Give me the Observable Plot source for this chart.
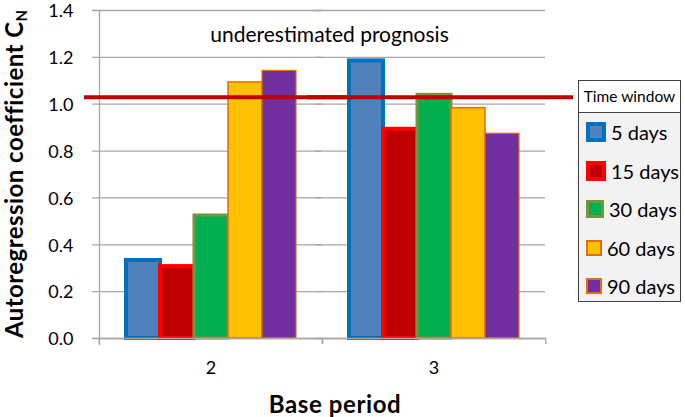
<!DOCTYPE html>
<html>
<head>
<meta charset="utf-8">
<script src="https://cdn.jsdelivr.net/npm/d3@7"></script>
<script src="https://cdn.jsdelivr.net/npm/@observablehq/plot@0.6"></script>
<style>
  html, body { margin: 0; padding: 0; background: #fff; }
  #wrap { position: relative; width: 685px; height: 417px; font-family: Lato, "Open Sans", sans-serif; color: #000; }
  #chart svg { display: block; }
  .ylab { position: absolute; left: 15px; top: 174px; transform: translate(-50%, -50%) rotate(-90deg); white-space: nowrap; font-weight: bold; font-size: 24px; letter-spacing: 0.45px; line-height: 1; }
  .ylab sub { font-size: 15px; vertical-align: -4px; letter-spacing: 0; }
  .xlab { position: absolute; left: 335px; top: 404px; transform: translate(-50%, -50%); white-space: nowrap; font-weight: bold; font-size: 24px; letter-spacing: 0.6px; line-height: 1; }
  .legend { position: absolute; left: 578px; top: 80px; width: 103px; height: 222px; border: 1.5px solid #404040; background: #f2f2f2; box-sizing: border-box; }
  .legend .title { height: 31px; background: #fff; border-bottom: 1.5px solid #404040; font-size: 15.5px; line-height: 31px; text-align: center; white-space: nowrap; }
  .legend .item { height: 38.5px; display: flex; align-items: center; padding-left: 7px; font-size: 20px; white-space: nowrap; }
  .legend .sw { width: 12px; height: 12px; margin-right: 5px; box-sizing: content-box; }
</style>
</head>
<body>
<div id="wrap">
  <div id="chart"></div>
</div>
<script>
const periods = ["2", "3"];
const windows = ["5 days", "15 days", "30 days", "60 days", "90 days"];
const valuesPeriod2 = [0.333, 0.307, 0.525, 1.093, 1.142];
const valuesPeriod3 = [1.185, 0.893, 1.040, 0.983, 0.874];
const fills = ["#4f81bd", "#c00000", "#00b050", "#ffc000", "#7030a0"];
const strokes = ["#0070c0", "#ff0000", "#77933c", "#e46c0a", "#e46c0a"];
const strokeWidths = [4, 4, 3, 1.5, 1.2];
const yTicks = [0, 0.2, 0.4, 0.6, 0.8, 1.0, 1.2, 1.4];
const threshold = 1.03;
const annotation = "underestimated prognosis";
const legendTitle = "Time window";

const data = [];
windows.forEach((w, i) => {
  data.push({period: periods[0], window: w, value: valuesPeriod2[i], i});
  data.push({period: periods[1], window: w, value: valuesPeriod3[i], i});
});

const gray = "#a6a6a6";
const halfBand = (685 - 98 - 140) / 4;

const barMarks = windows.map((w, i) =>
  Plot.barY(data.filter(d => d.window === w), {
    fx: "period", x: "window", y: "value",
    fill: fills[i], stroke: strokes[i], strokeWidth: strokeWidths[i]
  })
);

const plot = Plot.plot({
  width: 685,
  height: 417,
  marginLeft: 98,
  marginRight: 140,
  marginTop: 10,
  marginBottom: 79,
  style: {fontFamily: "Lato, 'Open Sans', sans-serif", color: "#000", background: "#fff"},
  fx: {domain: periods, padding: 0, axis: null, label: null},
  x: {domain: windows, paddingInner: 0, paddingOuter: 0.72, axis: null},
  y: {domain: [0, 1.4], axis: null},
  marks: [
    Plot.ruleY(yTicks, {stroke: gray, strokeWidth: 1.3, insetLeft: -7}),
    Plot.axisY({ticks: yTicks, tickSize: 0, tickPadding: 26, tickFormat: d3.format(".1f"), fontSize: 18, label: null, fill: "#000", dy: 1}),
    Plot.frame({anchor: "left", fx: [periods[0]], stroke: gray, strokeWidth: 1.3, insetBottom: -6}),
    Plot.axisFx({anchor: "bottom", tickSize: 6, tickFormat: () => "", stroke: gray, strokeWidth: 1.3, dx: -halfBand, label: null}),
    Plot.axisFx({anchor: "bottom", tickSize: 6, tickFormat: () => "", stroke: gray, strokeWidth: 1.3, dx: halfBand, label: null}),
    Plot.axisFx({anchor: "bottom", tickSize: 0, tickPadding: 23, fontSize: 18, label: null, fill: "#000"}),
    ...barMarks,
    Plot.ruleY([0], {stroke: gray, strokeWidth: 1.3}),
    Plot.ruleY([threshold], {stroke: "#c00000", strokeWidth: 4, insetLeft: -15, insetRight: -28}),
    Plot.text([annotation], {facet: "super", frameAnchor: "top", dy: 17, dx: 7, fontSize: 21, fill: "#000"})
  ]
});
document.getElementById("chart").appendChild(plot);

const wrap = document.getElementById("wrap");
const ylab = document.createElement("div");
ylab.className = "ylab";
ylab.innerHTML = "Autoregression coefficient C<sub>N</sub>";
wrap.appendChild(ylab);
const xlab = document.createElement("div");
xlab.className = "xlab";
xlab.textContent = "Base period";
wrap.appendChild(xlab);

const legend = document.createElement("div");
legend.className = "legend";
const t = document.createElement("div");
t.className = "title";
t.textContent = legendTitle;
legend.appendChild(t);
windows.forEach((w, i) => {
  const it = document.createElement("div");
  it.className = "item";
  const sw = document.createElement("span");
  sw.className = "sw";
  sw.style.background = fills[i];
  sw.style.border = `${Math.max(2, strokeWidths[i])}px solid ${strokes[i]}`;
  it.appendChild(sw);
  const lbl = document.createElement("span");
  lbl.textContent = w;
  it.appendChild(lbl);
  legend.appendChild(it);
});
wrap.appendChild(legend);
</script>
</body>
</html>
